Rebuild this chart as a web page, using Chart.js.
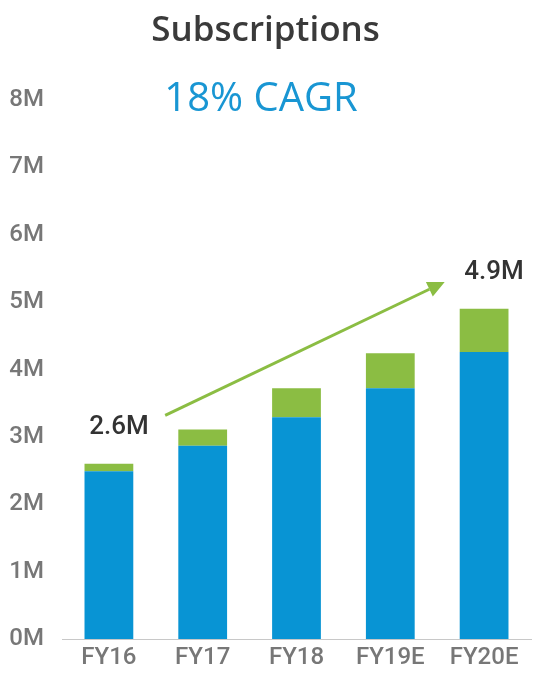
<!DOCTYPE html>
<html>
<head>
<meta charset="utf-8">
<script src="https://cdn.jsdelivr.net/npm/chart.js@4/dist/chart.umd.min.js"></script>
<style>
  html, body { margin: 0; padding: 0; background: #fff; }
  #wrap { width: 542px; height: 678px; }
</style>
</head>
<body>
<div id="wrap"><canvas id="myCanvas" width="542" height="678"></canvas></div>
<script>
const years = ["FY16", "FY17", "FY18", "FY19E", "FY20E"];
const baseSubs = [2.49, 2.87, 3.29, 3.72, 4.26];   // blue, millions
const addedSubs = [0.11, 0.24, 0.43, 0.52, 0.64];  // green, millions
const yTicks = [0, 1, 2, 3, 4, 5, 6, 7, 8];
const callouts = [{ index: 0, text: "2.6M" }, { index: 4, text: "4.9M" }];
// trend arrow, in (category index, value) space
const arrowFrom = { x: 0.6, y: 3.32 };
const arrowTo = { x: 3.58, y: 5.3 };

const green = "#8bbd43";
const blue = "#0894d4";

const overlay = {
  id: "overlay",
  afterDatasetsDraw(chart) {
    const { ctx, scales: { x, y } } = chart;
    ctx.save();

    // CAGR heading
    ctx.fillStyle = "#1996d3";
    ctx.font = "400 40px 'Open Sans'";
    ctx.textAlign = "center";
    ctx.textBaseline = "middle";
    ctx.fillText("18% CAGR", 261, 100);

    // value callouts above the stacks
    ctx.fillStyle = "#333";
    ctx.font = "500 26px Roboto";
    callouts.forEach((c) => {
      const total = baseSubs[c.index] + addedSubs[c.index];
      const px = x.getPixelForValue(c.index) + 10;
      const py = y.getPixelForValue(total) - 36;
      ctx.fillText(c.text, px, py);
    });

    // growth arrow
    const x1 = x.getPixelForValue(arrowFrom.x), y1 = y.getPixelForValue(arrowFrom.y);
    const x2 = x.getPixelForValue(arrowTo.x), y2 = y.getPixelForValue(arrowTo.y);
    const ang = Math.atan2(y2 - y1, x2 - x1);
    const headLen = 17, headW = 8;
    ctx.strokeStyle = green;
    ctx.lineWidth = 3;
    ctx.beginPath();
    ctx.moveTo(x1, y1);
    ctx.lineTo(x2 - headLen * Math.cos(ang), y2 - headLen * Math.sin(ang));
    ctx.stroke();
    ctx.fillStyle = green;
    ctx.beginPath();
    ctx.moveTo(x2, y2);
    ctx.lineTo(x2 - headLen * Math.cos(ang) + headW * Math.sin(ang), y2 - headLen * Math.sin(ang) - headW * Math.cos(ang));
    ctx.lineTo(x2 - headLen * Math.cos(ang) - headW * Math.sin(ang), y2 - headLen * Math.sin(ang) + headW * Math.cos(ang));
    ctx.closePath();
    ctx.fill();

    ctx.restore();
  }
};

new Chart(document.getElementById("myCanvas").getContext("2d"), {
  type: "bar",
  data: {
    labels: years,
    datasets: [
      { label: "Base", data: baseSubs, backgroundColor: blue },
      { label: "Added", data: addedSubs, backgroundColor: green }
    ]
  },
  options: {
    responsive: false,
    animation: false,
    layout: { padding: { top: 0, right: 11, bottom: 1, left: 0 } },
    datasets: { bar: { barPercentage: 0.52, categoryPercentage: 1 } },
    plugins: {
      legend: { display: false },
      tooltip: { enabled: false },
      title: {
        display: true,
        text: "Subscriptions",
        color: "#3a3a3a",
        font: { family: "'Open Sans'", size: 35, weight: "600" },
        padding: { top: 10, bottom: 48 }
      }
    },
    scales: {
      x: {
        stacked: true,
        grid: { display: false, drawTicks: false },
        border: { display: true, color: "#c8c8c8", width: 1 },
        ticks: { color: "#777", padding: 7, font: { family: "Roboto", size: 24, weight: "500", lineHeight: 1 } }
      },
      y: {
        stacked: true,
        min: 0,
        max: 8,
        afterBuildTicks: (axis) => { axis.ticks = yTicks.map((v) => ({ value: v })); },
        afterFit: (axis) => { axis.width = 62; },
        grid: { display: false, drawTicks: false },
        border: { display: false },
        ticks: {
          color: "#777",
          padding: 18,
          font: { family: "Roboto", size: 24, weight: "500" },
          callback: (v) => v + "M"
        }
      }
    }
  },
  plugins: [overlay]
});
</script>
</body>
</html>
